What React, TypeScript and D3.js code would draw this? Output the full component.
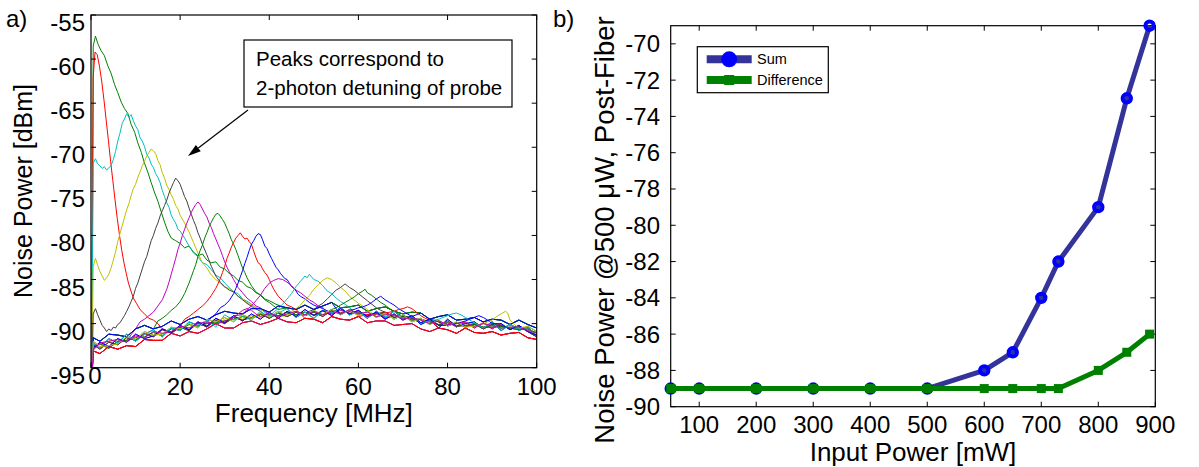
import React from "react";
import * as d3 from "d3";

const W = 1199;
const H = 467;
const FONT = "'Liberation Sans', Arial, Helvetica, sans-serif";

// ---------------- Panel a data ----------------
const freqTicks = [0, 20, 40, 60, 80, 100];
const dbTicks = [-95, -90, -85, -80, -75, -70, -65, -60, -55];

const baseFreq = [0.5, 2, 4, 6, 8, 10, 12, 14, 16, 18, 20, 22, 24, 26, 28, 30, 32, 34, 36, 38, 40, 42, 44, 46, 48, 50,
  52, 54, 56, 58, 60, 62, 64, 66, 68, 70, 72, 74, 76, 78, 80, 82, 84, 86, 88, 90, 92, 94, 96, 98, 100];

const baselineA = [-92.2, -92.8, -91.7, -92.2, -91.2, -92.0, -91.2, -90.7, -91.5, -90.5,
  -90.8, -89.8, -90.2, -89.6, -90.4, -89.0, -89.6, -89.2, -89.6, -88.6,
  -89.3, -88.8, -88.3, -89.3, -88.7, -89.4, -88.5, -88.8, -88.2, -89.0,
  -88.6, -89.4, -88.6, -89.3, -88.6, -89.4, -89.2, -90.1, -89.6, -90.5,
  -89.5, -90.3, -90.0, -89.8, -90.5, -89.8, -90.8, -90.1, -90.6, -90.4, -91.4];
const baselineB = [-92.8, -92.1, -92.6, -91.7, -92.1, -91.2, -91.7, -91.4, -90.6, -91.0,
  -90.2, -90.7, -89.8, -90.3, -89.4, -89.9, -89.1, -89.7, -88.9, -89.5,
  -88.7, -89.4, -88.6, -89.2, -88.4, -89.1, -88.5, -89.1, -88.3, -88.9,
  -88.5, -89.2, -88.7, -89.5, -88.9, -89.6, -89.1, -89.9, -89.5, -90.2,
  -89.7, -90.4, -89.8, -90.5, -89.9, -90.6, -90.0, -90.7, -90.2, -90.9, -91.3];
const baselineC = [-92.0, -92.6, -92.5, -92.3, -91.5, -91.8, -90.9, -91.3, -91.2, -90.4,
  -90.6, -90.0, -90.5, -89.5, -89.8, -89.3, -89.8, -89.0, -89.4, -88.8,
  -89.2, -88.6, -89.1, -88.6, -89.1, -88.5, -89.0, -88.4, -89.0, -88.5,
  -89.1, -88.6, -89.3, -88.8, -89.5, -89.0, -89.8, -89.4, -90.1, -89.6,
  -90.3, -89.8, -90.4, -89.9, -90.5, -90.0, -90.6, -90.1, -90.8, -90.3, -90.9];
const baselineD = [-93.0, -92.2, -92.0, -91.8, -92.1, -91.4, -91.6, -90.9, -91.1, -90.9,
  -90.3, -90.5, -90.0, -89.8, -90.1, -89.5, -89.2, -89.5, -89.1, -89.3,
  -88.8, -89.2, -88.9, -88.6, -89.0, -88.6, -89.0, -88.6, -88.9, -88.4,
  -88.9, -88.7, -89.2, -89.0, -89.0, -89.5, -89.3, -89.6, -90.0, -89.7,
  -90.1, -90.0, -89.8, -90.3, -90.0, -90.2, -90.5, -90.4, -90.4, -90.8, -91.0];
const baselineE = [-92.4, -92.9, -92.1, -92.4, -91.6, -91.9, -91.1, -91.5, -90.7, -91.1,
  -90.4, -90.8, -89.9, -90.4, -89.6, -90.0, -89.3, -89.6, -89.3, -88.9,
  -89.4, -88.8, -89.2, -88.7, -89.1, -88.7, -89.2, -88.5, -88.8, -88.6,
  -88.7, -89.1, -88.9, -88.7, -89.3, -89.1, -89.4, -89.9, -89.5, -89.8,
  -90.2, -89.9, -90.4, -90.0, -90.6, -90.1, -90.2, -90.6, -90.3, -90.9, -91.5];
const baselineF = [-92.6, -92.3, -92.8, -92.0, -91.9, -91.6, -91.5, -91.0, -91.4, -90.6,
  -90.7, -90.1, -90.3, -90.0, -89.9, -89.7, -89.5, -89.2, -89.4, -89.0,
  -89.0, -89.1, -88.7, -89.0, -88.7, -89.0, -88.6, -88.9, -88.5, -88.8,
  -88.9, -89.0, -88.8, -89.4, -89.1, -89.2, -89.6, -89.5, -89.8, -90.1,
  -89.9, -90.3, -90.2, -90.1, -90.4, -90.4, -90.3, -90.5, -90.7, -90.6, -91.1];
const baselineG = [-91.6, -92.0, -91.2, -91.3, -91.5, -90.6, -90.2, -90.6, -90.3, -89.7,
  -90.1, -89.5, -89.2, -89.6, -89.0, -88.6, -88.8, -88.9, -88.3, -88.3,
  -88.7, -88.0, -88.2, -88.4, -87.9, -88.4, -88.0, -87.6, -88.2, -88.1,
  -87.9, -88.6, -88.3, -88.1, -88.6, -88.9, -88.7, -88.8, -89.5, -89.2,
  -89.0, -89.6, -89.5, -89.3, -89.8, -89.5, -89.6, -90.1, -89.6, -90.1, -90.5];
const baselineH = [-93.1, -93.4, -92.6, -92.9, -92.5, -92.6, -91.8, -91.9, -91.9, -91.1,
  -91.4, -90.9, -91.1, -90.6, -90.0, -90.5, -90.5, -89.9, -89.7, -90.1,
  -89.8, -89.4, -89.8, -89.9, -89.4, -89.5, -89.9, -89.2, -89.5, -89.6,
  -89.2, -89.9, -89.7, -89.7, -90.2, -90.1, -90.0, -90.6, -90.9, -90.5,
  -90.7, -91.1, -90.5, -91.0, -91.1, -90.9, -91.3, -91.1, -91.0, -91.6, -91.8];
const baselines = [baselineA, baselineB, baselineC, baselineD, baselineE, baselineF, baselineG, baselineH];

// peak segments [MHz, dBm]
const segGreen1: [number, number][] = [[0.5, -58.5], [1.0, -57.4], [1.5, -58.2], [2.2, -59.0], [3.0, -59.6], [3.8, -60.8], [4.5, -61.6], [5.3, -62.9], [6.0, -63.8], [6.8, -64.9], [7.5, -65.6], [8.3, -66.2], [9.0, -67.4], [9.8, -68.3], [10.5, -69.5], [11.3, -70.6], [12.0, -71.8], [12.8, -72.9], [13.5, -74.0], [14.3, -75.2], [15.0, -76.1], [15.8, -77.4], [16.5, -78.5], [17.3, -79.6], [18.0, -80.3], [19.0, -80.6], [20.0, -80.9], [21.0, -81.4], [22.0, -81.2], [23.0, -81.9], [24.0, -82.3], [25.0, -82.1], [26.0, -82.8], [27.0, -83.1], [28.0, -83.0], [29.0, -83.6], [30.0, -83.8], [31.0, -84.3], [32.0, -84.6], [33.0, -85.1], [34.0, -85.3], [35.0, -85.8], [36.0, -86.0], [37.0, -86.5], [38.0, -86.7], [39.0, -87.2], [40.0, -87.4], [41.5, -87.8], [43.0, -88.1]];
const segRed1: [number, number][] = [[0.5, -62.0], [0.9, -59.2], [1.4, -59.5], [1.9, -60.8], [2.4, -62.5], [2.9, -64.6], [3.4, -66.9], [3.9, -69.2], [4.4, -71.6], [4.9, -73.8], [5.4, -76.0], [5.9, -78.1], [6.4, -80.0], [6.9, -81.7], [7.4, -83.1], [7.9, -84.3], [8.4, -85.4], [8.9, -86.2], [9.5, -87.1], [10.2, -87.7], [11.0, -88.4], [12.0, -88.9], [13.0, -89.4], [14.0, -89.6], [15.0, -90.0]];
const segCyan1: [number, number][] = [[0.5, -71.8], [1.0, -71.3], [1.5, -71.9], [2.0, -72.1], [2.5, -72.4], [3.0, -72.2], [3.5, -72.6], [4.0, -72.3], [4.5, -72.1], [5.0, -71.4], [5.5, -70.5], [6.0, -69.3], [6.5, -68.4], [7.0, -67.3], [7.5, -66.8], [8.0, -66.2], [8.5, -66.6], [9.0, -66.3], [9.5, -67.0], [10.0, -67.6], [10.5, -68.0], [11.0, -68.9], [11.5, -69.3], [12.0, -69.9], [12.5, -70.8], [13.0, -71.2], [13.5, -71.9], [14.0, -72.3], [14.5, -73.0], [15.0, -73.4], [15.5, -74.0], [16.0, -74.9], [16.5, -75.6], [17.0, -76.3], [17.5, -76.8], [18.0, -77.7], [18.5, -78.2], [19.0, -78.6], [19.5, -79.3], [20.0, -79.5], [21.0, -80.3], [22.0, -81.2], [23.0, -82.0], [24.0, -82.4], [25.0, -83.1], [26.0, -83.3], [27.0, -83.9], [28.0, -84.5], [29.0, -84.8], [30.0, -85.4], [31.0, -85.9], [32.0, -86.4], [33.0, -86.6], [34.0, -87.2], [35.5, -87.6], [37.0, -88.2], [38.5, -88.5]];
const segYellow1: [number, number][] = [[0.5, -83.5], [1.0, -82.6], [1.5, -83.4], [2.0, -84.1], [2.5, -84.6], [3.0, -85.1], [3.5, -84.8], [4.0, -84.4], [4.5, -83.7], [5.0, -82.8], [5.5, -81.9], [6.0, -80.7], [6.5, -79.8], [7.0, -78.9], [7.5, -78.0], [8.0, -77.1], [8.5, -76.4], [9.0, -75.5], [9.5, -74.7], [10.0, -74.2], [10.5, -73.4], [11.0, -72.8], [11.5, -72.1], [12.0, -71.6], [12.5, -71.0], [13.0, -70.6], [13.5, -70.2], [14.0, -70.4], [14.5, -70.7], [15.0, -71.5], [15.5, -72.0], [16.0, -72.9], [16.5, -73.5], [17.0, -74.3], [17.5, -74.8], [18.0, -75.4], [18.5, -75.9], [19.0, -76.6], [19.5, -77.0], [20.0, -77.7], [21.0, -78.6], [22.0, -79.6], [23.0, -80.8], [24.0, -82.0], [25.0, -83.1], [26.0, -83.7], [27.0, -84.5], [28.0, -85.0], [29.0, -85.4], [30.0, -85.9], [31.0, -86.0], [32.0, -86.4], [33.0, -86.9], [34.0, -87.2], [35.0, -87.6], [36.5, -88.0], [38.0, -88.4]];
const segGray1: [number, number][] = [[0.5, -88.9], [1.0, -88.3], [1.5, -89.0], [2.0, -89.6], [2.5, -90.2], [3.0, -90.5], [3.5, -90.9], [4.0, -90.6], [4.5, -90.8], [5.0, -90.4], [5.5, -90.5], [6.0, -90.1], [6.5, -89.9], [7.0, -89.5], [7.5, -89.1], [8.0, -88.6], [8.5, -88.1], [9.0, -87.5], [9.5, -86.9], [10.0, -86.0], [10.5, -85.4], [11.0, -84.6], [11.5, -83.8], [12.0, -83.0], [12.5, -82.4], [13.0, -81.5], [13.5, -80.6], [14.0, -80.0], [14.5, -79.2], [15.0, -78.6], [15.5, -77.8], [16.0, -77.2], [16.5, -76.6], [17.0, -76.0], [17.5, -75.2], [18.0, -74.6], [18.5, -74.0], [19.0, -73.5], [19.5, -73.8], [20.0, -74.2], [20.5, -74.9], [21.0, -75.6], [21.5, -76.1], [22.0, -76.9], [22.5, -77.6], [23.0, -78.3], [23.5, -78.9], [24.0, -79.7], [24.5, -80.3], [25.0, -81.0], [26.0, -82.2], [27.0, -83.5], [28.0, -84.6], [29.0, -85.3], [30.0, -85.8], [31.0, -86.2], [32.0, -86.4], [33.0, -86.9], [34.0, -87.3], [35.0, -87.7], [36.5, -88.2], [38.0, -88.6]];
const segMagenta1: [number, number][] = [[10.0, -90.6], [11.0, -89.8], [12.0, -89.5], [13.0, -89.1], [14.0, -88.7], [15.0, -88.0], [16.0, -87.3], [17.0, -86.1], [17.5, -85.3], [18.0, -84.4], [18.5, -83.5], [19.0, -82.6], [19.5, -81.6], [20.0, -80.9], [20.5, -80.0], [21.0, -79.3], [21.5, -78.6], [22.0, -78.0], [22.5, -77.4], [23.0, -76.9], [23.5, -76.5], [24.0, -76.2], [24.5, -76.5], [25.0, -77.0], [25.5, -77.5], [26.0, -77.9], [26.5, -78.6], [27.0, -79.1], [27.5, -79.8], [28.0, -80.4], [28.5, -81.0], [29.0, -81.6], [29.5, -82.3], [30.0, -83.0], [30.5, -83.6], [31.0, -84.1], [32.0, -85.0], [33.0, -85.9], [34.0, -86.5], [35.0, -87.1], [36.0, -87.5], [37.0, -88.0], [38.0, -88.2]];
const segGreen2: [number, number][] = [[14.0, -90.6], [15.0, -89.7], [16.0, -89.4], [17.0, -89.0], [18.0, -88.5], [19.0, -88.1], [20.0, -87.5], [21.0, -86.6], [22.0, -85.4], [22.5, -84.7], [23.0, -84.0], [23.5, -83.3], [24.0, -82.4], [24.5, -81.7], [25.0, -81.1], [25.5, -80.3], [26.0, -79.7], [26.5, -79.0], [27.0, -78.5], [27.5, -78.0], [28.0, -77.6], [28.5, -77.5], [29.0, -77.8], [29.5, -78.2], [30.0, -78.6], [30.5, -79.2], [31.0, -79.8], [31.5, -80.5], [32.0, -81.0], [32.5, -81.6], [33.0, -82.3], [33.5, -83.0], [34.0, -83.7], [34.5, -84.2], [35.0, -84.8], [36.0, -85.7], [37.0, -86.4], [38.0, -86.8], [39.0, -87.3], [40.0, -87.6], [41.0, -88.0], [42.0, -88.4]];
const segRed2: [number, number][] = [[20.0, -90.3], [21.0, -89.5], [22.0, -89.2], [23.0, -88.8], [24.0, -88.4], [25.0, -88.0], [26.0, -87.5], [27.0, -86.8], [28.0, -86.0], [28.5, -85.5], [29.0, -84.9], [29.5, -84.2], [30.0, -83.5], [30.5, -82.6], [31.0, -82.0], [31.5, -81.3], [32.0, -80.8], [32.5, -80.3], [33.0, -80.0], [33.5, -79.7], [34.0, -80.1], [34.5, -80.4], [35.0, -80.3], [35.5, -80.7], [36.0, -81.0], [36.5, -81.8], [37.0, -82.5], [37.5, -83.1], [38.0, -83.3], [38.5, -83.8], [39.0, -84.2], [39.5, -84.5], [40.0, -85.0], [40.5, -85.6], [41.0, -86.1], [41.5, -86.5], [42.0, -86.9], [43.0, -87.4], [44.0, -87.9], [45.0, -88.1], [46.0, -88.4]];
const segBlue1: [number, number][] = [[26.0, -89.9], [27.0, -89.3], [28.0, -88.9], [29.0, -88.2], [30.0, -87.9], [31.0, -87.4], [32.0, -86.6], [32.5, -86.0], [33.0, -85.4], [33.5, -84.7], [34.0, -84.0], [34.5, -83.2], [35.0, -82.5], [35.5, -81.7], [36.0, -81.0], [36.5, -80.6], [37.0, -80.1], [37.5, -79.8], [38.0, -79.9], [38.5, -80.5], [39.0, -81.2], [39.5, -81.5], [40.0, -82.1], [40.5, -82.6], [41.0, -83.1], [41.5, -83.6], [42.0, -83.9], [42.5, -84.3], [43.0, -84.6], [43.5, -84.9], [44.0, -85.0], [44.5, -85.4], [45.0, -85.8], [45.5, -86.0], [46.0, -86.3], [46.5, -86.7], [47.0, -86.9], [48.0, -87.2], [49.0, -87.6], [50.0, -87.9], [51.0, -88.1], [52.0, -88.3]];
const segMagenta2: [number, number][] = [[34.0, -89.0], [35.0, -88.4], [36.0, -88.0], [37.0, -87.4], [38.0, -86.8], [39.0, -86.0], [40.0, -85.4], [41.0, -85.1], [42.0, -84.9], [43.0, -85.0], [44.0, -85.3], [45.0, -85.7], [46.0, -86.2], [47.0, -86.5], [48.0, -86.9], [49.0, -87.3], [50.0, -87.6], [51.0, -88.0], [52.0, -88.2]];
const segCyan2: [number, number][] = [[40.0, -89.1], [41.0, -88.7], [42.0, -88.3], [43.0, -87.8], [44.0, -87.2], [45.0, -86.6], [46.0, -85.8], [47.0, -85.2], [48.0, -84.6], [48.5, -84.8], [49.0, -84.4], [50.0, -85.0], [51.0, -85.2], [52.0, -85.7], [53.0, -86.3], [54.0, -86.6], [55.0, -87.1], [56.0, -87.5], [57.0, -87.8], [58.0, -88.2]];
const segYellow2: [number, number][] = [[44.0, -89.1], [45.0, -88.6], [46.0, -88.3], [47.0, -87.9], [48.0, -87.3], [49.0, -86.8], [50.0, -86.1], [51.0, -85.6], [52.0, -85.1], [53.0, -84.8], [54.0, -85.0], [55.0, -85.4], [56.0, -85.9], [57.0, -86.3], [58.0, -86.9], [59.0, -87.3], [60.0, -87.7], [61.0, -88.0], [62.0, -88.4]];
const segGray2: [number, number][] = [[48.0, -89.0], [49.0, -88.6], [50.0, -88.4], [51.0, -88.0], [52.0, -87.7], [53.0, -87.2], [54.0, -86.7], [55.0, -86.2], [56.0, -85.9], [57.0, -85.5], [57.5, -85.7], [58.0, -85.9], [59.0, -86.2], [60.0, -86.6], [61.0, -87.0], [62.0, -87.4], [63.0, -87.8], [64.0, -88.2], [65.0, -88.5]];
const segGreen3: [number, number][] = [[52.0, -89.0], [53.0, -88.7], [54.0, -88.4], [55.0, -88.2], [56.0, -87.9], [57.0, -87.6], [58.0, -87.3], [59.0, -87.0], [60.0, -86.6], [61.0, -86.3], [61.5, -86.1], [62.0, -86.5], [63.0, -86.8], [64.0, -87.2], [65.0, -87.6], [66.0, -87.9], [67.0, -88.3], [68.0, -88.6], [69.0, -88.9]];
const segBlue2: [number, number][] = [[56.0, -89.0], [57.0, -88.7], [58.0, -88.5], [59.0, -88.4], [60.0, -88.2], [61.0, -88.1], [62.0, -87.9], [63.0, -87.6], [64.0, -87.2], [65.0, -86.9], [65.5, -87.1], [66.0, -87.3], [67.0, -87.6], [68.0, -87.9], [69.0, -88.3], [70.0, -88.6], [71.0, -88.9], [72.0, -89.2]];
const segRed3: [number, number][] = [[62.0, -89.0], [64.0, -88.9], [66.0, -88.8], [68.0, -88.6], [69.0, -88.4], [70.0, -88.3], [71.0, -88.1], [72.0, -88.3], [73.0, -88.7], [74.0, -89.1], [75.0, -89.4], [76.0, -89.6]];
const segCyan3: [number, number][] = [[74.0, -89.9], [76.0, -89.7], [78.0, -89.5], [79.0, -89.3], [80.0, -89.1], [81.0, -88.9], [82.0, -88.8], [83.0, -89.0], [84.0, -89.3], [85.0, -89.6], [86.0, -89.9]];
const segBlue3: [number, number][] = [[80.0, -90.2], [82.0, -90.0], [84.0, -89.7], [85.0, -89.5], [86.0, -89.3], [87.0, -89.1], [88.0, -89.3], [89.0, -89.6], [90.0, -90.0]];
const segYellow3: [number, number][] = [[86.0, -90.3], [88.0, -90.0], [90.0, -89.6], [91.0, -89.2], [92.0, -88.9], [93.0, -88.6], [93.5, -88.8], [94.0, -89.6], [95.0, -90.1], [96.0, -90.5]];
const segMagenta3: [number, number][] = [[30.0, -89.7], [32.0, -89.3], [33.0, -88.9], [34.0, -88.5], [35.0, -88.3], [36.0, -88.5], [37.0, -88.9], [38.0, -89.2]];
const segNone: [number, number][] = [];

const C_B = "#0000ff", C_G = "#008000", C_R = "#ff0000", C_C = "#00bfbf", C_M = "#bf00bf", C_Y = "#bfbf00", C_K = "#404040";

// baseline-only traces first (drawn underneath), then the traces with peaks
const traceSegments = [segNone, segNone, segNone, segNone, segNone, segNone,
  segGreen1, segRed1, segCyan1, segYellow1, segGray1, segMagenta1, segGreen2, segRed2, segBlue1,
  segMagenta2, segCyan2, segYellow2, segGray2, segGreen3, segBlue2, segRed3, segCyan3, segBlue3, segYellow3, segMagenta3];
const traceColors = [C_B, C_K, C_R, C_Y, C_M, C_G,
  C_G, C_R, C_C, C_Y, C_K, C_M, C_G, C_R, C_B, C_M, C_C, C_Y, C_K, C_G, C_B, C_R, C_C, C_B, C_Y, C_M];
const traceBaseline = [6, 7, 4, 5, 7, 6,
  0, 1, 2, 3, 4, 5, 6, 7, 0, 1, 2, 3, 4, 5, 6, 7, 0, 1, 2, 3];
const traceStart: [number, number] = [0.15, -97];

// ---------------- Panel b data ----------------
const inputPower = [50, 100, 200, 300, 400, 500, 600, 650, 700, 730, 800, 850, 890];
const sumNoise = [-89, -89, -89, -89, -89, -89, -88, -87, -84, -82, -79, -73, -69];
const diffNoise = [-89, -89, -89, -89, -89, -89, -89, -89, -89, -89, -88, -87, -86];
const powerTicks = [100, 200, 300, 400, 500, 600, 700, 800, 900];
const noiseTicks = [-90, -88, -86, -84, -82, -80, -78, -76, -74, -72, -70];

function buildTrace(i: number): [number, number][] {
  const seg = traceSegments[i];
  const base = baselines[traceBaseline[i]];
  const pts: [number, number][] = [traceStart];
  if (seg.length === 0) {
    baseFreq.forEach((f, j) => pts.push([f, base[j]]));
    return pts;
  }
  const s0 = seg[0][0];
  const s1 = seg[seg.length - 1][0];
  baseFreq.forEach((f, j) => { if (f < s0) pts.push([f, base[j]]); });
  seg.forEach((p) => pts.push(p));
  baseFreq.forEach((f, j) => { if (f > s1) pts.push([f, base[j]]); });
  return pts;
}

export default function App() {
  const A = { left: 91, right: 536.7, top: 15, bottom: 367.7 };
  const xA = d3.scaleLinear().domain([0, 100]).range([A.left, A.right]);
  const yA = d3.scaleLinear().domain([-95, -55]).range([A.bottom, A.top]);
  const lineA = d3.line<[number, number]>().x((d) => xA(d[0])).y((d) => yA(d[1]));

  const B = { left: 670.7, right: 1155.3, top: 25.7, bottom: 406.7 };
  const xB = d3.scaleLinear().domain([50, 900]).range([B.left, B.right]);
  const yB = d3.scaleLinear().domain([-90, -69]).range([B.bottom, B.top]);
  const lineB = d3.line<number>().x((_, i) => xB(inputPower[i])).y((d) => yB(d));

  const tick = 5;
  const sumLine = "#333399";
  const sumMarker = "#0000ff";
  const diffColor = "#008000";

  // arrow geometry (annotation)
  const ax0 = 248, ay0 = 110, ax1 = 188, ay1 = 156;
  const ang = Math.atan2(ay1 - ay0, ax1 - ax0);
  const hl = 13, hw = 4;
  const bx = ax1 - hl * Math.cos(ang), by = ay1 - hl * Math.sin(ang);
  const head = `M${ax1},${ay1} L${bx - hw * Math.sin(ang)},${by + hw * Math.cos(ang)} L${bx + hw * Math.sin(ang)},${by - hw * Math.cos(ang)} Z`;

  return (
    <svg width={W} height={H} style={{ position: "absolute", left: 0, top: 0, background: "#fff" }} fontFamily={FONT}>
      <rect x={0} y={0} width={W} height={H} fill="#fff" />
      <defs>
        <clipPath id="clipA">
          <rect x={A.left} y={A.top} width={A.right - A.left} height={A.bottom - A.top} />
        </clipPath>
      </defs>

      {/* ---------- Panel a ---------- */}
      <text x={6} y={18} fontSize={24} dominantBaseline="central">a)</text>
      <g clipPath="url(#clipA)">
        {traceSegments.map((_, i) => (
          <path key={i} d={lineA(buildTrace(i)) || ""} fill="none" stroke={traceColors[i]} strokeWidth={1} strokeLinejoin="round" />
        ))}
      </g>
      <rect x={A.left} y={A.top} width={A.right - A.left} height={A.bottom - A.top} fill="none" stroke="#000" strokeWidth={1.2} />
      {freqTicks.map((t) => (
        <g key={"fx" + t}>
          <line x1={xA(t)} x2={xA(t)} y1={A.bottom} y2={A.bottom - tick} stroke="#000" />
          <line x1={xA(t)} x2={xA(t)} y1={A.top} y2={A.top + tick} stroke="#000" />
          <text x={t === 0 ? xA(t) + 4 : xA(t)} y={t === 0 ? 375 : 386} fontSize={24} textAnchor="middle" dominantBaseline="central">{t}</text>
        </g>
      ))}
      {dbTicks.map((t) => (
        <g key={"fy" + t}>
          <line x1={A.left} x2={A.left + tick} y1={yA(t)} y2={yA(t)} stroke="#000" />
          <line x1={A.right} x2={A.right - tick} y1={yA(t)} y2={yA(t)} stroke="#000" />
          <text x={85} y={yA(t) + 7.5} fontSize={24} textAnchor="end" dominantBaseline="central">{t}</text>
        </g>
      ))}
      <text x={(A.left + A.right) / 2} y={413} fontSize={26} textAnchor="middle" dominantBaseline="central">Frequency [MHz]</text>
      <text transform={`translate(23,191) rotate(-90)`} fontSize={25} textAnchor="middle" dominantBaseline="central">Noise Power [dBm]</text>

      {/* annotation */}
      <rect x={244} y={40} width={268} height={67} fill="#fff" stroke="#000" strokeWidth={1.2} />
      <text x={256} y={58} fontSize={20.5} dominantBaseline="central">Peaks correspond to</text>
      <text x={256} y={87} fontSize={20.5} dominantBaseline="central">2-photon detuning of probe</text>
      <line x1={ax0} y1={ay0} x2={bx} y2={by} stroke="#000" strokeWidth={1.2} />
      <path d={head} fill="#000" />

      {/* ---------- Panel b ---------- */}
      <text x={553} y={18} fontSize={24} dominantBaseline="central">b)</text>
      <rect x={B.left} y={B.top} width={B.right - B.left} height={B.bottom - B.top} fill="none" stroke="#000" strokeWidth={1.2} />
      {powerTicks.map((t) => (
        <g key={"px" + t}>
          <line x1={xB(t)} x2={xB(t)} y1={B.bottom} y2={B.bottom - tick} stroke="#000" />
          <line x1={xB(t)} x2={xB(t)} y1={B.top} y2={B.top + tick} stroke="#000" />
          <text x={xB(t)} y={424} fontSize={24} textAnchor="middle" dominantBaseline="central">{t}</text>
        </g>
      ))}
      {noiseTicks.map((t) => (
        <g key={"py" + t}>
          <line x1={B.left} x2={B.left + tick} y1={yB(t)} y2={yB(t)} stroke="#000" />
          <line x1={B.right} x2={B.right - tick} y1={yB(t)} y2={yB(t)} stroke="#000" />
          <text x={660} y={yB(t)} fontSize={24} textAnchor="end" dominantBaseline="central">{t}</text>
        </g>
      ))}
      <text x={(B.left + B.right) / 2} y={452} fontSize={26} textAnchor="middle" dominantBaseline="central">Input Power [mW]</text>
      <text transform={`translate(604,230) rotate(-90)`} fontSize={27.5} textAnchor="middle" dominantBaseline="central">Noise Power @500 μW, Post-Fiber</text>

      <path d={lineB(sumNoise) || ""} fill="none" stroke={sumLine} strokeWidth={5} strokeLinejoin="round" />
      {sumNoise.map((v, i) => (
        <circle key={"s" + i} cx={xB(inputPower[i])} cy={yB(v)} r={4.2} fill="none" stroke={sumMarker} strokeWidth={4} />
      ))}
      <path d={lineB(diffNoise) || ""} fill="none" stroke={diffColor} strokeWidth={5} strokeLinejoin="round" />
      {diffNoise.map((v, i) => (
        <rect key={"d" + i} x={xB(inputPower[i]) - 4.5} y={yB(v) - 4.5} width={9} height={9} fill={diffColor} />
      ))}

      {/* legend */}
      <rect x={697.3} y={46.7} width={131} height={46} fill="#fff" stroke="#000" strokeWidth={1.2} />
      <line x1={706.7} x2={751.7} y1={59.3} y2={59.3} stroke={sumLine} strokeWidth={8} />
      <circle cx={729.2} cy={59.3} r={8} fill={sumMarker} />
      <text x={757} y={59.3} fontSize={14.5} dominantBaseline="central">Sum</text>
      <line x1={706.7} x2={751.7} y1={80} y2={80} stroke={diffColor} strokeWidth={8} />
      <rect x={724.2} y={75} width={10} height={10} fill={diffColor} />
      <text x={757} y={80} fontSize={14.5} dominantBaseline="central">Difference</text>
    </svg>
  );
}
